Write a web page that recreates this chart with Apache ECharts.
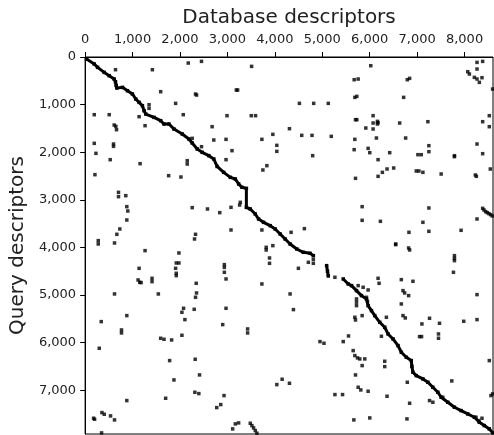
<!DOCTYPE html>
<html>
<head>
<meta charset="utf-8">
<script src="https://cdn.jsdelivr.net/npm/echarts@6/dist/echarts.min.js"></script>
<style>
  html, body { margin: 0; padding: 0; background: #fff; }
  #spy_chart { width: 494px; height: 435px; }
</style>
</head>
<body>
<div id="spy_chart"></div>
<script>
// descriptor matches: [database index, query index]
var xTicks = [0, 1000, 2000, 3000, 4000, 5000, 6000, 7000, 8000];
var yTicks = [0, 1000, 2000, 3000, 4000, 5000, 6000, 7000];
var dbCount = 8600;
var queryCount = 7920;

// main diagonal, read as runs of matches
var diagUpper = [[30,40],[193,148],[263,218],[403,323],[508,393],[613,463],[640,520],[655,600],[669,652],[788,638],[893,708],[998,778],[1068,883],[1138,953],[1208,1023],[1243,1128],[1278,1198],[1453,1268],[1593,1338],[1663,1408],[1768,1408],[1873,1513],[2048,1618],[2188,1723],[2258,1807],[2363,1933],[2468,2003],[2608,2073],[2713,2143],[2783,2300],[2922,2423],[3062,2528],[3167,2563],[3237,2668],[3307,2738],[3400,2760],[3400,3160],[3482,3193],[3587,3298],[3657,3403],[3762,3473],[3902,3543],[4007,3613],[4112,3718],[4217,3823],[4322,3928],[4462,4033],[4602,4103],[4742,4124],[4812,4173]];
var diagStep = [[5092,4383],[5110,4500],[5127,4600]];
var diagLower = [[5442,4663],[5547,4768],[5617,4803],[5722,4908],[5827,5013],[5932,5083],[5967,5223],[6037,5328],[6107,5433],[6212,5573],[6317,5678],[6387,5818],[6492,5923],[6597,6063],[6667,6203],[6772,6308],[6877,6378],[6890,6500],[6912,6623],[6982,6693],[7122,6763],[7227,6833],[7332,6938],[7437,7043],[7507,7148],[7647,7253],[7787,7358],[7927,7428],[8067,7498],[8207,7568],[8312,7673],[8417,7743],[8522,7813],[8600,7900]];

// scattered matches
var matchesUpperLeft = [[641,267],[1418,267],[2174,127],[2454,92],[1593,729],[2328,778],[2350,800],[1908,974],[1348,1002],[1348,1079],[1138,1254],[1264,1443],[193,1212],[508,1212],[2069,1212],[613,1429],[648,1457],[662,1527],[2678,1464],[2713,1744],[2258,1709],[193,1814],[228,2024],[599,1828],[599,1877],[2454,1884],[529,2157],[1159,2241],[2153,2178],[2153,2248],[207,2472],[1761,2493],[2020,2521],[704,2843],[704,2934],[858,2913],[879,3144],[900,3235],[879,3424],[2258,3165],[2580,3193],[2839,3270],[732,3613],[669,3725],[620,3907],[277,3858],[277,3928],[2328,3725],[2307,3823]];
var matchesUpperMid = [[3510,197],[3188,694],[3216,694],[4518,974],[4819,974],[5127,974],[2992,1233],[3503,1233],[3594,1233],[4308,1506],[2971,1730],[3727,1730],[3958,1625],[4567,1646],[4784,1646],[5190,1667],[4042,1856],[4042,1982],[3097,1968],[2971,2157],[4798,2073],[3832,2283],[3748,2374],[3076,3158],[3272,3053],[3258,3110],[3076,3634],[3727,3634],[4343,3683],[4623,3606]];
var matchesUpperRight = [[6023,183],[5673,477],[5757,463],[6793,477],[6842,449],[8263,113],[8382,92],[8263,253],[8613,253],[8067,309],[8102,358],[8207,428],[8263,463],[8312,533],[8368,435],[8592,673],[5687,848],[5729,827],[6716,848],[5701,1317],[5729,1317],[6072,1233],[5918,1492],[6072,1387],[6072,1513],[6163,1352],[6163,1408],[6177,1380],[6632,1387],[7227,1359],[8522,1233],[8382,1359],[8522,1464],[5687,1730],[6142,1702],[6758,1702],[5673,1947],[5967,1919],[6002,2010],[6422,2010],[7248,1863],[7248,1989],[7017,2052],[7087,2052],[7787,2073],[7787,2094],[8263,1828],[8382,2031],[8613,1835],[6177,2157],[6506,2332],[6366,2353],[6268,2423],[6177,2507],[6982,2395],[7038,2395],[7122,2423],[7507,2458],[5701,2549],[8228,2479],[8249,2507],[8543,2353],[5841,3144],[5841,3431],[6226,3452],[7248,3172],[7122,3473],[8263,3403],[8382,3179],[8410,3214],[8445,3249],[8480,3270],[8515,3291],[8550,3312],[8585,3340],[8613,3368],[6828,3683],[7248,3662],[7927,3641],[6548,3928]];
var matchesLowerLeft = [[1264,4068],[1978,4117],[1922,4327],[1978,4327],[1908,4439],[1922,4544],[1922,4593],[1138,4439],[1117,4684],[1152,4733],[1180,4740],[1411,4649],[1411,4719],[2342,4754],[2349,4957],[2328,5048],[620,4978],[1544,4978],[2076,5279],[2041,5363],[2300,5300],[2104,5517],[340,5559],[879,5433],[767,5734],[767,5797],[1593,5909],[1663,5930],[1824,5944],[2041,5846],[298,6119],[1782,6378],[2321,6350],[1873,6784],[2412,6679],[2314,7043],[2398,7071],[879,7218],[1698,7169],[2776,7365],[2860,7302],[179,7589],[200,7610],[354,7470],[403,7505],[536,7540],[620,7624],[347,7897]];
var matchesLowerMid = [[3818,3998],[3818,4054],[3958,3963],[3888,4222],[3888,4334],[2936,4362],[2936,4420],[2936,4523],[2971,4663],[4497,4439],[3727,4768],[4322,4978],[4392,5307],[2971,5279],[2901,5622],[3426,5713],[3426,5797],[4952,5979],[5036,6014],[5442,5979],[5554,5860],[4042,6882],[4154,6770],[4308,6854],[2929,7113],[5267,7092],[5428,7092],[3111,7813],[3167,7708],[3237,7687],[3482,7694],[3517,7743],[3552,7792],[3587,7848],[3622,7904],[4707,4313],[4812,4250],[4812,4334],[5267,4628]];
var matchesLowerRight = [[6548,3942],[6842,4054],[6821,4012],[7787,4173],[7787,4230],[7787,4278],[7766,4523],[6177,4649],[6198,4754],[6667,4677],[6912,4712],[6702,4908],[6737,4957],[6821,5013],[6667,5188],[8263,4992],[5757,4803],[5862,4838],[5967,4894],[5722,5083],[5722,5150],[5722,5223],[5932,5048],[5953,5132],[5687,5468],[5701,5524],[5841,5433],[6352,5468],[6702,5433],[6751,5482],[7101,5608],[7262,5489],[7472,5594],[7983,5552],[8263,5517],[7052,5874],[7094,5874],[7451,5818],[7451,5909],[6247,5867],[5652,6168],[5687,6273],[5743,6322],[5792,6343],[5897,6343],[5841,6483],[6317,6392],[6317,6504],[5701,6679],[5757,6938],[5813,6994],[5967,7022],[6793,6833],[7731,6805],[8522,6378],[6366,7127],[6842,7274],[7262,7218],[7332,7253],[7542,7148],[8557,7113],[8592,7078],[5666,7624],[6002,7582],[6786,7603],[8242,7568],[8298,7638],[8368,7589]];

var spyChart = echarts.init(document.getElementById('spy_chart'));

var scatterPoints = [].concat(matchesUpperLeft, matchesUpperMid, matchesUpperRight,
    matchesLowerLeft, matchesLowerMid, matchesLowerRight);

function diagSeries(run) {
    return {
        type: 'line',
        data: run,
        symbol: 'rect',
        symbolSize: 3.5,
        showSymbol: true,
        itemStyle: {color: '#000'},
        lineStyle: {color: '#000', width: 3},
        silent: true
    };
}

var option = {
    animation: false,
    backgroundColor: '#fff',
    textStyle: {fontFamily: 'DejaVu Sans'},
    grid: {
        left: 83,
        top: 57,
        right: 1,
        bottom: 1,
        show: true,
        borderColor: '#000',
        borderWidth: 1
    },
    xAxis: {
        type: 'value',
        position: 'top',
        min: 0,
        max: dbCount,
        name: 'Database descriptors',
        nameLocation: 'middle',
        nameGap: 27,
        nameTextStyle: {fontSize: 20, color: '#222'},
        splitLine: {show: false},
        axisLine: {lineStyle: {color: '#000', width: 1}},
        axisTick: {length: 5, lineStyle: {color: '#000'}, customValues: xTicks},
        axisLabel: {fontSize: 13, color: '#222', margin: 11, customValues: xTicks}
    },
    yAxis: {
        type: 'value',
        inverse: true,
        min: 0,
        max: queryCount,
        name: 'Query descriptors',
        nameLocation: 'middle',
        nameGap: 53,
        nameTextStyle: {fontSize: 20, color: '#222'},
        splitLine: {show: false},
        axisLine: {lineStyle: {color: '#000', width: 1}},
        axisTick: {length: 5, lineStyle: {color: '#000'}, customValues: yTicks},
        axisLabel: {fontSize: 13, color: '#222', margin: 9, customValues: yTicks}
    },
    series: [
        diagSeries(diagUpper),
        diagSeries(diagStep),
        diagSeries(diagLower),
        {
            type: 'scatter',
            data: scatterPoints,
            symbol: 'rect',
            symbolSize: 3.5,
            itemStyle: {color: '#000'},
            silent: true
        }
    ]
};

spyChart.setOption(option);
</script>
</body>
</html>
